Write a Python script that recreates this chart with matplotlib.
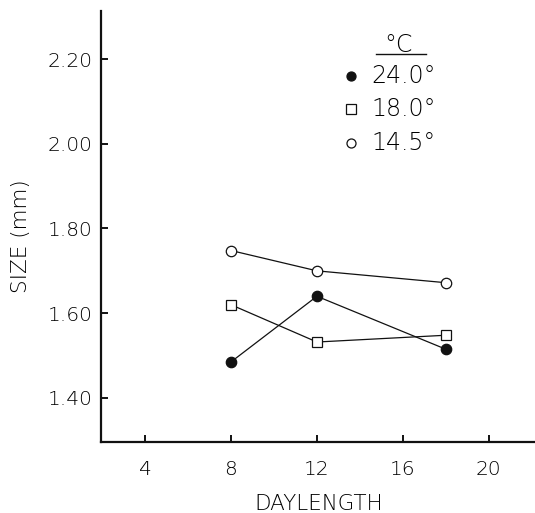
import matplotlib
matplotlib.use("Agg")
import matplotlib.pyplot as plt

plt.rcParams['font.family'] = ['DejaVu Sans']
plt.rcParams['font.weight'] = 'light'

# body size (mm) against daylength (h) at three rearing temperatures
daylength = [8, 12, 18]
size_24 = [1.485, 1.64, 1.515]
size_18 = [1.62, 1.532, 1.548]
size_145 = [1.748, 1.70, 1.672]

temps = ['24.0°', '18.0°', '14.5°']
xticks = [4, 8, 12, 16, 20]
yticks = [1.40, 1.60, 1.80, 2.00, 2.20]

ink = '#111111'
txt = '#000000'

fig = plt.figure(figsize=(5.35, 5.13), dpi=100)
ax = fig.add_axes([0.188, 0.1384, 0.81, 0.8407])

series = [
    (size_24, dict(marker='o', mfc=ink, mec=ink)),
    (size_18, dict(marker='s', mfc='white', mec=ink)),
    (size_145, dict(marker='o', mfc='white', mec=ink)),
]
for vals, style in series:
    ax.plot(daylength, vals, color=ink, lw=0.9, ms=7.5, mew=0.9, zorder=3, **style)

ax.set_xlim(1.93, 22.1)
ax.set_ylim(1.296, 2.314)
ax.set_xticks(xticks)
ax.set_yticks(yticks)
ax.set_xticklabels([str(t) for t in xticks])
ax.set_yticklabels([f'{t:.2f}' for t in yticks])

for side in ('top', 'right'):
    ax.spines[side].set_visible(False)
for side in ('left', 'bottom'):
    ax.spines[side].set_linewidth(1.6)
    ax.spines[side].set_color(ink)

ax.tick_params(axis='both', direction='in', length=5, width=1.4, color=ink,
               labelsize=14.5, labelcolor=txt)
ax.tick_params(axis='x', pad=13)
ax.tick_params(axis='y', pad=6)

fig.text(319 / 535, 1 - 504.5 / 513, 'DAYLENGTH', ha='center', va='center',
         fontsize=15.5, color=txt)
fig.text(21 / 535, 1 - 236.5 / 513, 'SIZE (mm)', ha='center', va='center',
         rotation=90, fontsize=15.5, color=txt)

# key, drawn in axes fractions
ax.text(0.687, 0.92, '°C', transform=ax.transAxes, ha='center', va='center',
        fontsize=17, color=txt)
ax.plot([0.635, 0.751], [0.9, 0.9], transform=ax.transAxes, color=ink, lw=1.0,
        clip_on=False)
key_y = [0.849, 0.772, 0.693]
for (vals, style), label, ky in zip(series, temps, key_y):
    ax.plot([0.578], [ky], transform=ax.transAxes, ls='none', ms=6.5, mew=0.9,
            clip_on=False, **style)
    ax.text(0.625, ky, label, transform=ax.transAxes, ha='left', va='center',
            fontsize=17, color=txt)

fig.savefig('out.png', dpi=100)
